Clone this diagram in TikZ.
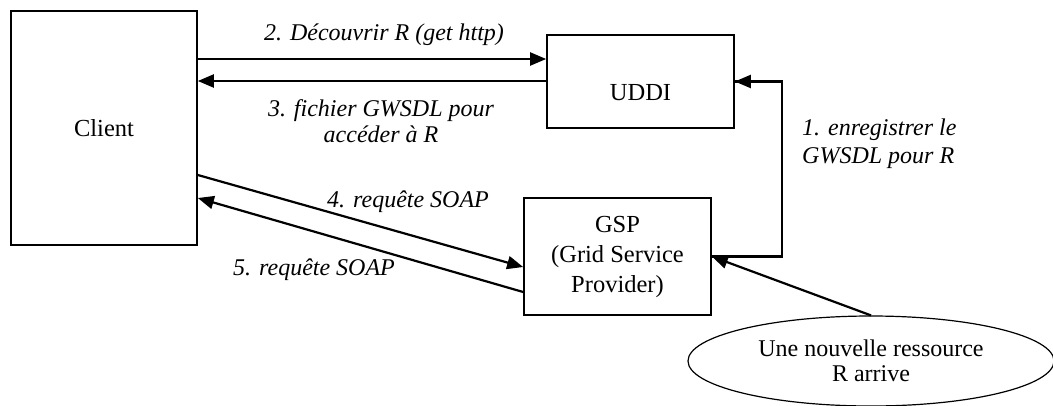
\documentclass[tikz,border=0pt]{standalone}
\usepackage{fontspec}
\setmainfont{Liberation Serif}
\usetikzlibrary{arrows.meta,shapes.geometric}
\begin{document}
\begin{tikzpicture}[x=1pt,y=-1pt,
  box/.style={draw,line width=1.7pt,inner sep=0pt,align=center,
    font=\fontsize{24.5pt}{30pt}\selectfont},
  oval/.style={draw,ellipse,line width=1.2pt,inner sep=0pt,align=center,
    font=\fontsize{24pt}{25pt}\selectfont},
  lbl/.style={inner sep=0pt,align=center,
    font=\fontsize{24pt}{26pt}\selectfont\itshape},
  link/.style={line width=2.2pt,-{Triangle[length=16pt,width=13pt]}},
  wire/.style={line width=2.2pt},
]
\useasboundingbox (0,0) rectangle (1053,405);

% boxes
\node[box,minimum width=186pt,minimum height=234pt] (client) at (104,128) {Client};
\node[box,minimum width=187pt,minimum height=93pt,text height=37pt,text depth=0pt]
  (uddi) at (640.5,81.5) {UDDI};
\node[box,minimum width=187pt,minimum height=117pt] (gsp) at (617.5,256.5)
  {GSP\\(Grid Service\\Provider)};
\node[oval,minimum width=366pt,minimum height=90pt] (res) at (871,361)
  {Une nouvelle ressource\\R arrive};

% heights at which the connectors leave and reach the boxes
\coordinate (y2) at (0,59);
\coordinate (y3) at (0,81);
\coordinate (y4a) at (0,175);
\coordinate (y4b) at (0,267);
\coordinate (y5a) at (0,292);
\coordinate (y5b) at (0,198);
\coordinate (x1) at (782,0);

% connectors
\draw[link] (client.east |- y2) -- (uddi.west |- y2);
\draw[link] (uddi.west |- y3) -- (client.east |- y3);
\draw[link] (client.east |- y4a) -- (gsp.west |- y4b);
\draw[link] (gsp.west |- y5a) -- (client.east |- y5b);
\draw[wire] (gsp.east) -- (gsp.east -| x1) |- (uddi.east);
\draw[link] (uddi.east -| x1) -- (uddi.east);
\draw[link] (res.north) -- (gsp.east);

% connector labels
\node[lbl,anchor=base] (l2) at (384,40) {2. Découvrir R (get http)};
\node[lbl] (l3) at (381,121) {3. fichier GWSDL pour\\accéder à R};
\node[lbl,anchor=base] (l4) at (408,207) {4. requête SOAP};
\node[lbl,anchor=base] (l5) at (314,275) {5. requête SOAP};
\node[lbl,align=left,anchor=west,font=\fontsize{24pt}{28pt}\selectfont\itshape]
  (l1) at (802,143.4) {1. enregistrer le\\GWSDL pour R};
\end{tikzpicture}
\end{document}
